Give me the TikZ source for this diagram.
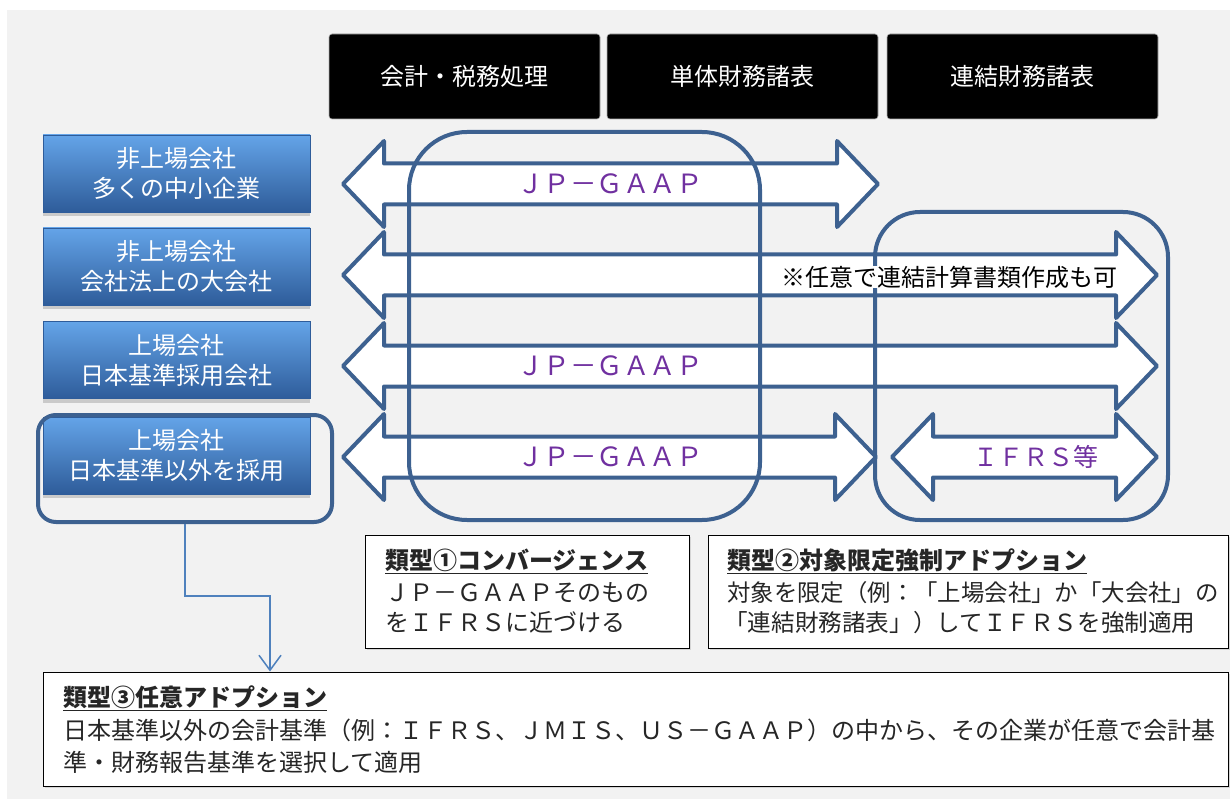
\documentclass[tikz,border=0pt]{standalone}
\usepackage{fontspec}
\setmainfont{Noto Sans CJK JP}
\usetikzlibrary{shadows,arrows.meta,calc}
\definecolor{bg}{HTML}{F2F2F2}
\definecolor{frame}{RGB}{61,97,144}
\definecolor{jp}{HTML}{7030A0}
\definecolor{link}{HTML}{4F81BD}
\definecolor{btop}{RGB}{100,164,232}
\definecolor{bmid}{RGB}{62,126,204}
\definecolor{bbot}{RGB}{46,92,154}
\definecolor{txt}{HTML}{262626}
\tikzset{
  hdr/.style={rectangle, rounded corners=3pt, fill=black, draw=gray!60, line width=0.6pt,
    minimum width=271pt, minimum height=85pt, text=white, font=\fontsize{24}{30}\selectfont},
  bluebox/.style={rectangle, top color=btop, middle color=bmid, bottom color=bbot, draw=bbot, line width=0.6pt,
    minimum width=267pt, minimum height=77pt, text=white, align=center, font=\fontsize{24}{30}\selectfont,
    drop shadow={opacity=0.35, shadow xshift=0pt, shadow yshift=-4pt}},
  arrowshape/.style={draw=frame, fill=white, line width=4pt, line join=round},
  frameline/.style={draw=frame, line width=4pt, rectangle},
  jplabel/.style={text=jp, font=\fontsize{26.5}{30}\selectfont, inner sep=0pt},
  notebox/.style={rectangle, draw=black, fill=white, line width=1pt,
    drop shadow={opacity=0.25, shadow xshift=2pt, shadow yshift=-2pt}},
  linetext/.style={anchor=base west, text=txt, inner sep=0pt, font=\fontsize{24}{30}\selectfont},
  link/.style={draw=link, line width=1.5pt, -{Straight Barb[length=15pt,width=22pt,line width=1.5pt]}}
}
\newcommand\dblarr[4]{% xl, L, c
  \draw[arrowshape] (#1,#3) -- ++(41,-43) -- ++(0,22.5) -- ++(#2,0) -- ++(0,-22.5) -- ++(41,43)
    -- ++(-41,43) -- ++(0,-22.5) -- ++(-#2,0) -- ++(0,22.5) -- cycle;}
\begin{document}
\begin{tikzpicture}[x=1pt,y=-1pt]
\useasboundingbox (0,0) rectangle (1230,799);
\fill[bg] (7,10) rectangle (1230,799);

% headers
\node[hdr] (h1) at (464.5,76.5) {会計・税務処理};
\node[hdr] (h2) at (742.5,76.5) {単体財務諸表};
\node[hdr] (h3) at (1022.5,76.5) {連結財務諸表};

% blue boxes
\node[bluebox] (c1) at (176.5,173.5) {非上場会社\\多くの中小企業};
\node[bluebox] (c2) at (176.5,266.5) {非上場会社\\会社法上の大会社};
\node[bluebox] (c3) at (176.5,360) {上場会社\\日本基準採用会社};
\node[bluebox] (c4) at (176.5,455.5) {上場会社\\日本基準以外を採用};
\node[frameline, rounded corners=18pt, minimum width=294pt, minimum height=107pt] (outl) at (185,468.5) {};

% arrows
\dblarr{343}{453}{184}{}
\dblarr{343}{732}{275}{}
\dblarr{343}{732}{366}{}
\dblarr{343}{451}{457}{}
\dblarr{892}{183}{457}{}

% big frames
\node[frameline, rounded corners=58pt, minimum width=351pt, minimum height=388pt] (r1) at (584.5,326) {};
\node[frameline, rounded corners=45pt, minimum width=293pt, minimum height=308pt] (r2) at (1021.5,366) {};

% arrow labels
\node[jplabel] (g1) at (610,184) {ＪＰ－ＧＡＡＰ};
\node[jplabel] (g3) at (610,366) {ＪＰ－ＧＡＡＰ};
\node[jplabel] (g4) at (610,457) {ＪＰ－ＧＡＡＰ};
\node[jplabel, font=\fontsize{25}{30}\selectfont] (ifrs) at (1036,457) {ＩＦＲＳ等};
\node[fill=white, inner sep=0pt, text=black, font=\fontsize{24}{30}\selectfont] (opt) at (949,277) {※任意で連結計算書類作成も可};

% note boxes
\node[notebox, minimum width=324pt, minimum height=113pt] (n1) at (527,591.5) {};
\node[notebox, minimum width=520pt, minimum height=113pt] (n2) at (968,591.5) {};
\node[notebox, minimum width=1185pt, minimum height=114pt] (n3) at (635.5,729) {};

\node[linetext, font=\fontsize{24}{30}\bfseries] (n1a) at (385,569) {\underline{類型①コンバージェンス}};
\node[linetext] (n1b) at (385,601) {ＪＰ－ＧＡＡＰそのもの};
\node[linetext] (n1c) at (385,631) {をＩＦＲＳに近づける};

\node[linetext, font=\fontsize{24}{30}\bfseries] (n2a) at (727,569) {\underline{類型②対象限定強制アドプション}};
\node[linetext, font=\fontsize{23.4}{30}\selectfont] (n2b) at (727,601) {対象を限定（例：「上場会社」か「大会社」の};
\node[linetext, font=\fontsize{23.6}{30}\selectfont] (n2c) at (724,631) {「連結財務諸表」）してＩＦＲＳを強制適用};

\node[linetext, font=\fontsize{24}{30}\bfseries] (n3a) at (63,706) {\underline{類型③任意アドプション}};
\node[linetext] (n3b) at (63,739) {日本基準以外の会計基準（例：ＩＦＲＳ、ＪＭＩＳ、ＵＳ－ＧＡＡＰ）の中から、その企業が任意で会計基};
\node[linetext] (n3c) at (63,771) {準・財務報告基準を選択して適用};

% connector
\coordinate (bend) at (270,596);
\draw[link] (outl.south) |- (bend) -- (bend |- n3.north);
\end{tikzpicture}
\end{document}
